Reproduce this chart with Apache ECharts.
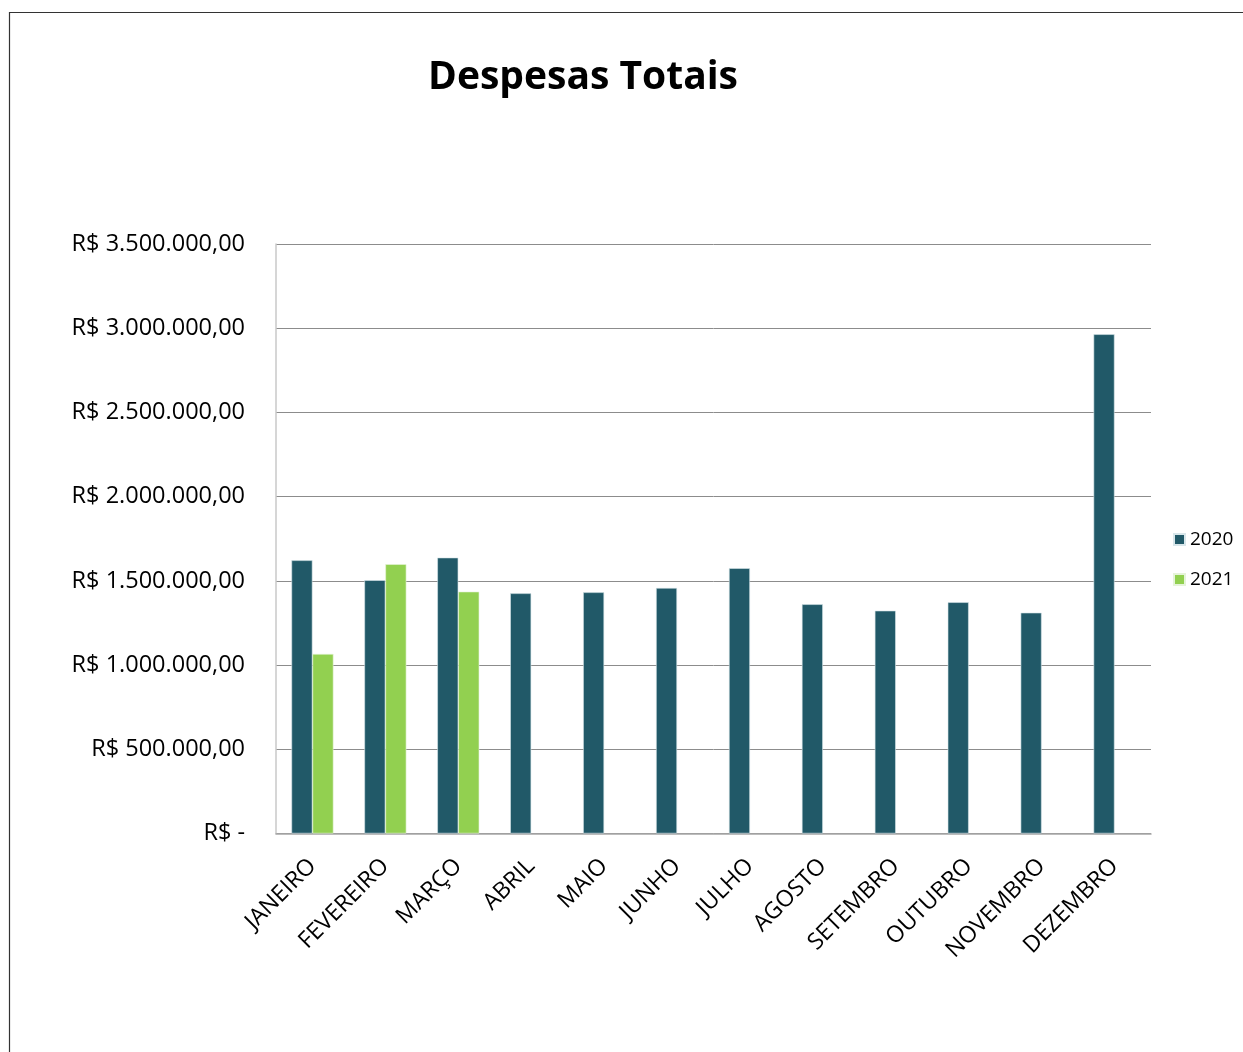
<!DOCTYPE html>
<html><head><meta charset="utf-8">
<script src="https://cdn.jsdelivr.net/npm/echarts@6/dist/echarts.min.js"></script>
<style>html,body{margin:0;padding:0;background:#fff}#c{width:1243px;height:1052px}</style>
</head><body><div id="c"></div>
<script>
const months = ['JANEIRO','FEVEREIRO','MARÇO','ABRIL','MAIO','JUNHO','JULHO','AGOSTO','SETEMBRO','OUTUBRO','NOVEMBRO','DEZEMBRO'];
const values2020 = [1622000,1504000,1638000,1426000,1432000,1458000,1575000,1361000,1323000,1373000,1311000,2964000];
const values2021 = [1066000,1599000,1436000,null,null,null,null,null,null,null,null,null];
const seriesNames = ['2020','2021'];
const titleText = 'Despesas Totais';

function fmt(v){
  if (v === 0) return 'R$ -';
  const s = Math.round(v).toString().replace(/\B(?=(\d{3})+(?!\d))/g,'.');
  return 'R$ ' + s + ',00';
}
const FONT = 'Open Sans';
const chart = echarts.init(document.getElementById('c'));
chart.setOption({
  animation:false,
  backgroundColor:'#fff',
  title:{text:titleText,left:578,top:53,textAlign:'center',
    textStyle:{fontFamily:FONT,fontWeight:'bold',fontSize:39,color:'#000'}},
  legend:{orient:'vertical',left:1168,top:525,itemWidth:11,itemHeight:11,itemGap:21,
    icon:'rect',textStyle:{fontFamily:FONT,fontSize:19,color:'#000'}},
  grid:{left:276,right:92,top:244,bottom:218.5,containLabel:false},
  xAxis:{type:'category',data:months,
    axisLine:{show:true,lineStyle:{color:'#a6a6a6',width:1.5}},
    axisTick:{show:false},
    axisLabel:{rotate:45,interval:0,margin:29,fontFamily:FONT,fontSize:23,color:'#000'}},
  yAxis:{type:'value',min:0,max:3500000,interval:500000,
    axisLine:{show:true,lineStyle:{color:'#c8c8c8',width:1.5}},
    axisTick:{show:false},
    splitLine:{lineStyle:{color:'#8c8c8c',width:1}},
    axisLabel:{formatter:fmt,margin:31,fontFamily:FONT,fontSize:23.5,color:'#000'}},
  series:[
    {name:seriesNames[0],type:'bar',data:values2020,barWidth:21,barGap:'0%',barCategoryGap:'42%',
     itemStyle:{color:'#215968',borderColor:'#d8e6ea',borderWidth:0.6}},
    {name:seriesNames[1],type:'bar',data:values2021,barWidth:21,barGap:'0%',
     itemStyle:{color:'#92D050',borderColor:'#e6f4da',borderWidth:0.6}}
  ],
  graphic:[{type:'rect',shape:{x:9.5,y:12.5,width:1400,height:1200},
    style:{fill:'none',stroke:'#333',lineWidth:1.2},silent:true}]
});
</script></body></html>
